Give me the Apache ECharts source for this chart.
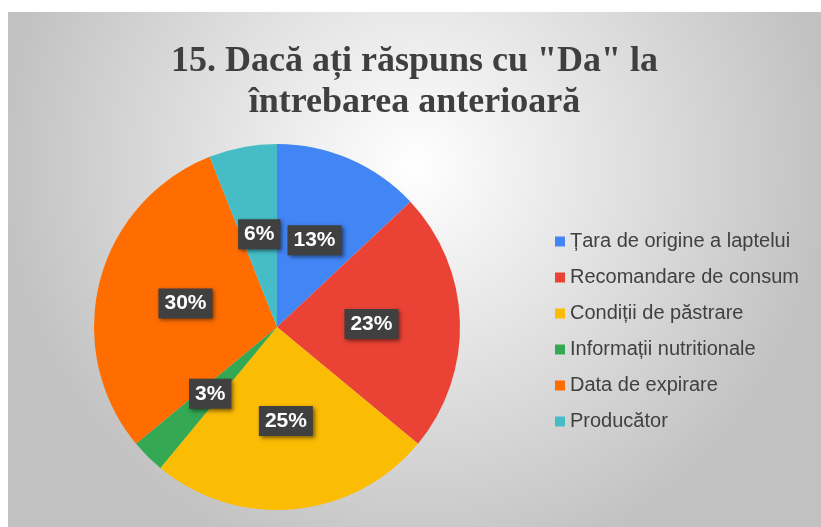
<!DOCTYPE html>
<html>
<head>
<meta charset="utf-8">
<script src="https://cdn.jsdelivr.net/npm/echarts@6/dist/echarts.min.js"></script>
<style>
  html, body { margin: 0; padding: 0; background: #fff; }
  #chart { position: absolute; left: 8px; top: 12px; width: 813px; height: 515px; }
</style>
</head>
<body>
<div id="chart"></div>
<script>
// date din grafic
var categorii = ['Țara de origine a laptelui', 'Recomandare de consum', 'Condiții de păstrare',
    'Informații nutritionale', 'Data de expirare', 'Producător'];
var procente = [13, 23, 25, 3, 30, 6];
var culori = ['#4285F4', '#EA4335', '#FBBC04', '#34A853', '#FF6D01', '#46BDC6'];

var myChart = echarts.init(document.getElementById('chart'));

var date = [];
for (var i = 0; i < categorii.length; i++) {
    date.push({ name: categorii[i], value: procente[i] });
}

var option = {
    backgroundColor: {
        type: 'radial', x: 0.5, y: 0.3, r: 0.8,
        colorStops: [
            { offset: 0, color: '#ffffff' },
            { offset: 1, color: '#c2c2c2' }
        ]
    },
    color: culori,
    title: {
        text: '15. Dacă ați răspuns cu "Da" la\nîntrebarea anterioară',
        left: 'center',
        top: 24,
        textStyle: {
            fontFamily: '"Liberation Serif", "Times New Roman", serif',
            fontWeight: 'bold',
            fontSize: 36,
            lineHeight: 41,
            color: '#3f3f3f'
        }
    },
    legend: {
        orient: 'vertical',
        left: 542,
        top: 213,
        itemWidth: 10,
        itemHeight: 10,
        itemGap: 13,
        icon: 'rect',
        textStyle: {
            fontFamily: '"Liberation Sans", Arial, sans-serif',
            fontSize: 20,
            lineHeight: 23,
            color: '#404040',
            padding: [0, 0, 0, 0]
        },
        data: categorii
    },
    series: [
        {
            type: 'pie',
            center: [269, 315],
            radius: [0, 183],
            startAngle: 90,
            clockwise: true,
            avoidLabelOverlap: false,
            label: {
                show: true,
                position: 'inside',
                formatter: '{c}%',
                fontFamily: '"Liberation Sans", Arial, sans-serif',
                fontWeight: 'bold',
                fontSize: 21,
                color: '#ffffff',
                backgroundColor: '#404040',
                padding: [5, 6, 4, 6],
                shadowColor: 'rgba(0,0,0,0.5)',
                shadowBlur: 4,
                shadowOffsetX: 2,
                shadowOffsetY: 2
            },
            labelLine: { show: false },
            emphasis: { disabled: true },
            data: date
        }
    ]
};

myChart.setOption(option);
</script>
</body>
</html>
